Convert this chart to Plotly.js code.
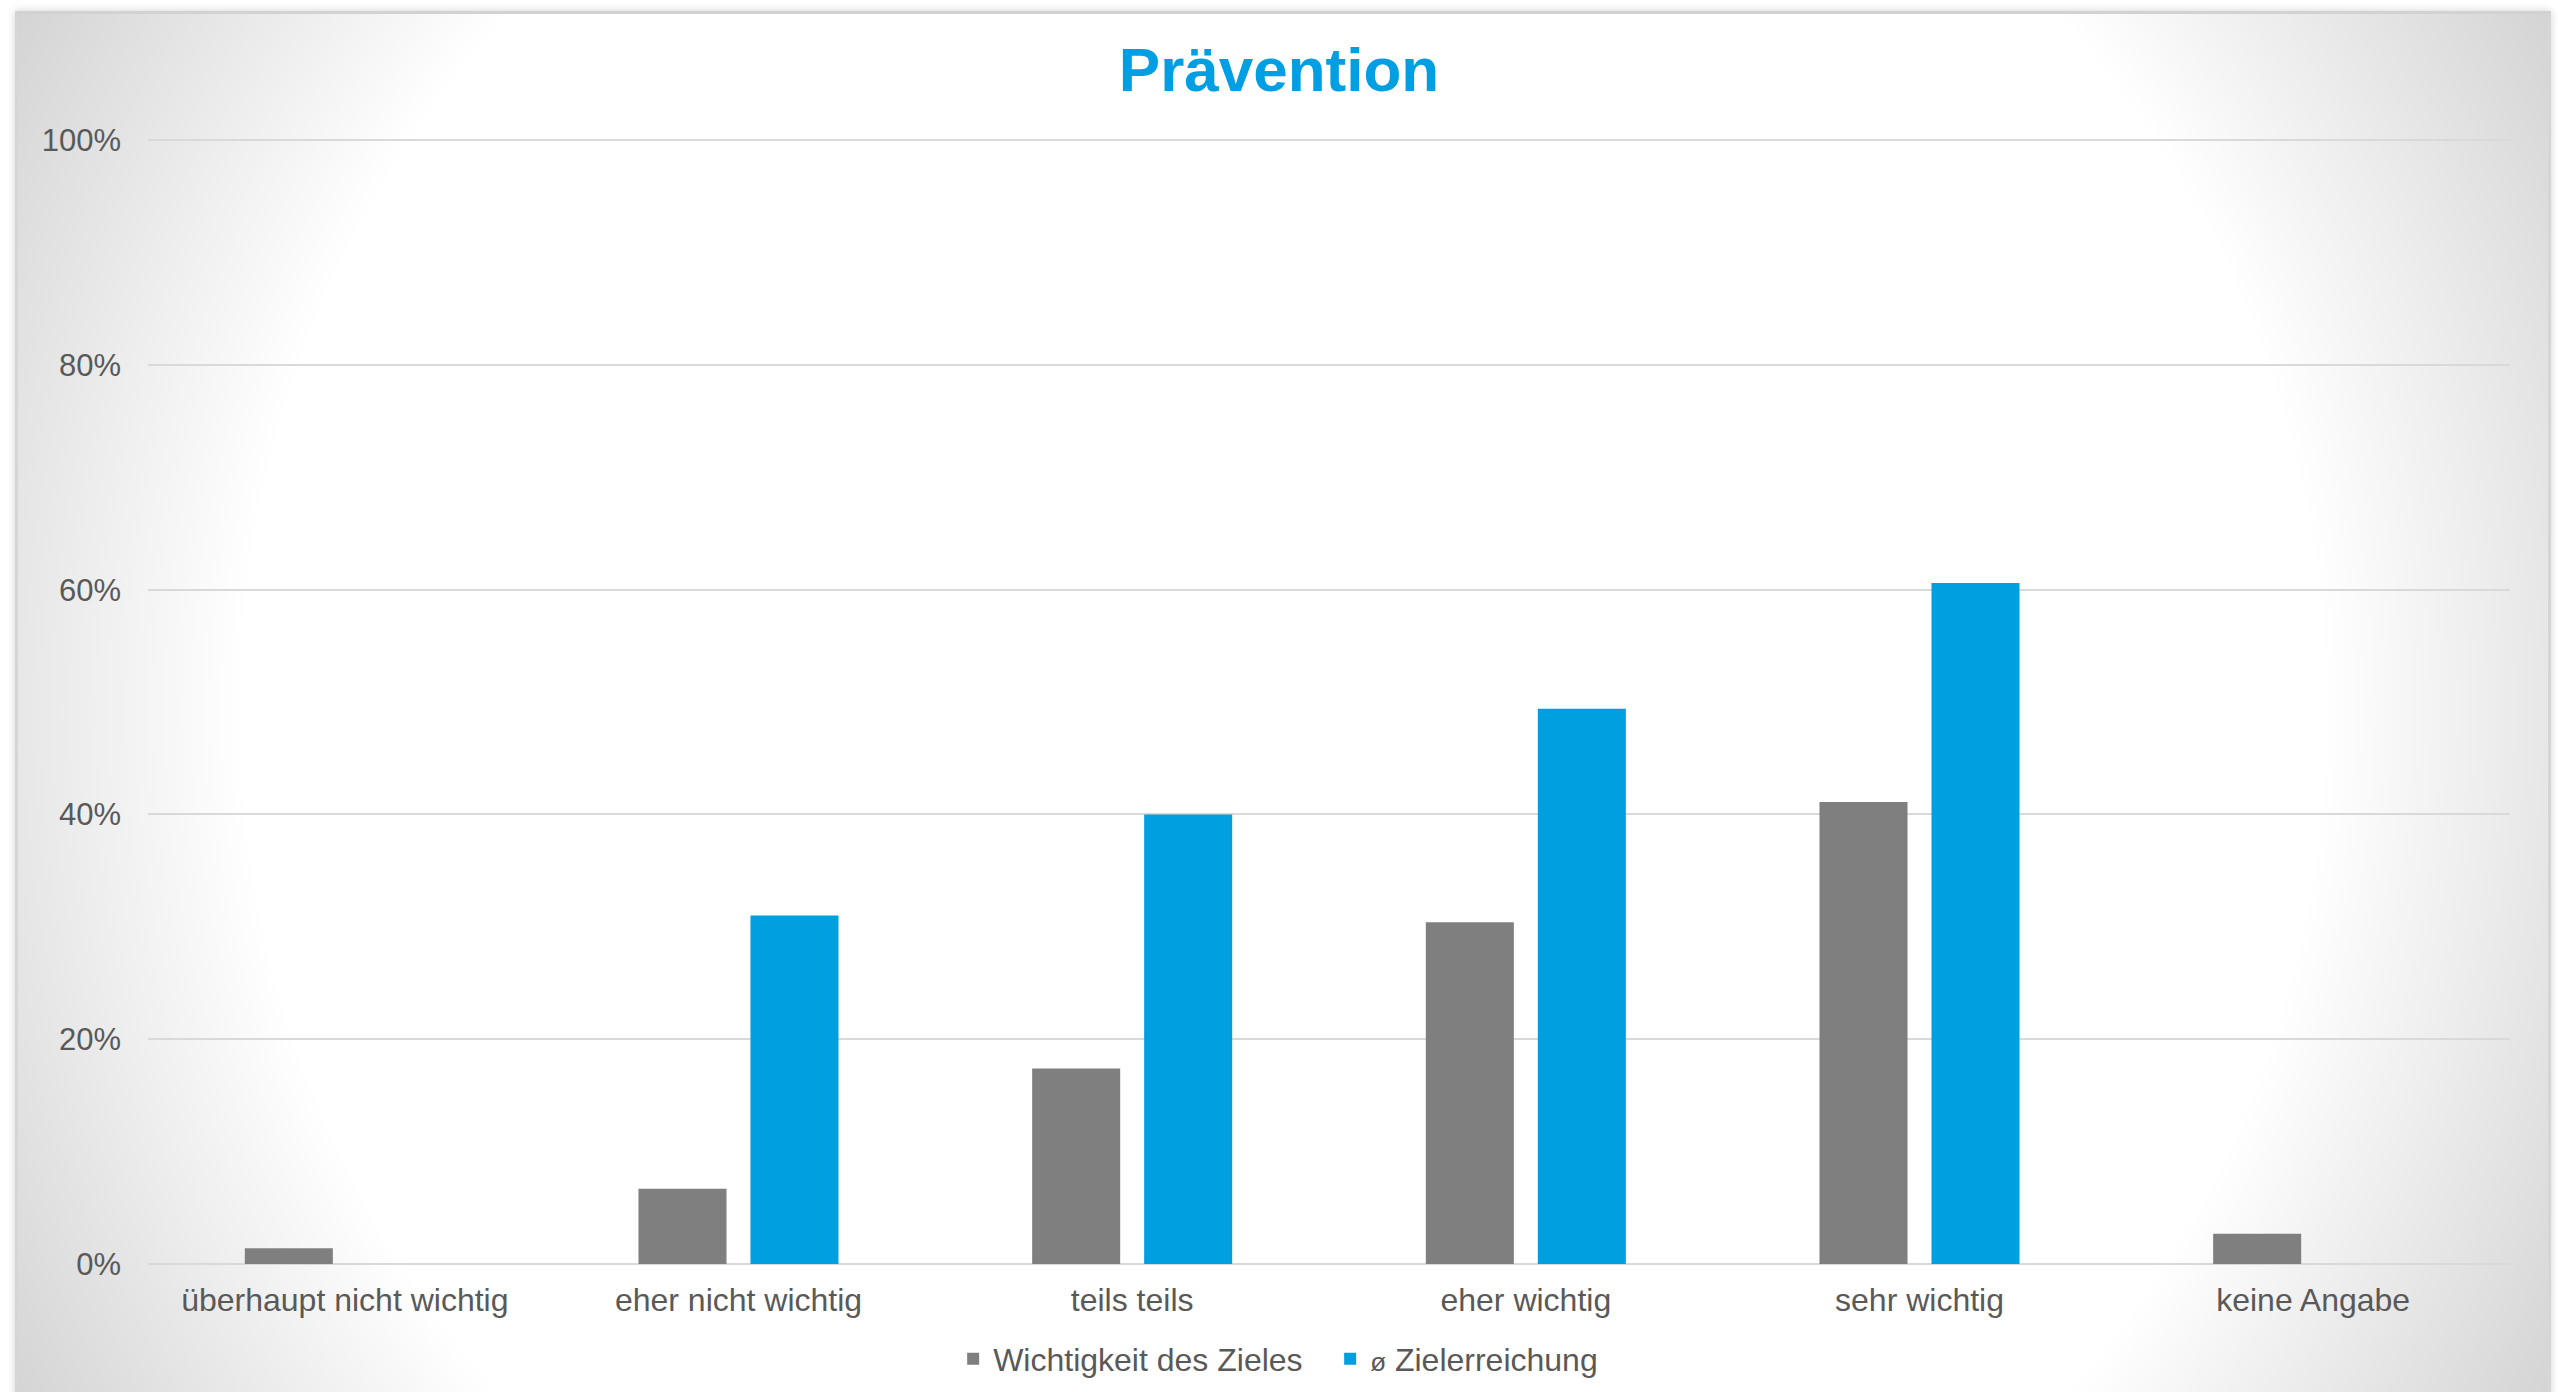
<!DOCTYPE html>
<html>
<head>
<meta charset="utf-8">
<script src="https://cdn.plot.ly/plotly-3.0.1.min.js"></script>
<style>
  html, body { margin:0; padding:0; background:#ffffff; width:2558px; height:1392px; overflow:hidden; }
  #frame {
    position:absolute; left:15px; top:11px; width:2530px; height:1390px;
    background: radial-gradient(circle farthest-corner at 50% 50%, #ffffff 0%, #ffffff 72%, #d4d4d4 100%);
    border-top:3px solid #d2d2d2; border-left:3px solid #d6d6d6; border-right:3px solid #d6d6d6;
    box-shadow: 0 0 8px rgba(0,0,0,0.18);
  }
  #chart { position:absolute; left:0; top:0; width:2558px; height:1392px; }
</style>
</head>
<body>
<div id="frame"></div>
<div id="chart"></div>
<script>
// ---- data ----
const chartTitle = "Prävention";
const categories = ["überhaupt nicht wichtig", "eher nicht wichtig", "teils teils", "eher wichtig", "sehr wichtig", "keine Angabe"];
const seriesNames = ["Wichtigkeit des Zieles", "<span style=\"font-size:26px\">ø</span> Zielerreichung"];
const wichtigkeit = [1.4, 6.7, 17.4, 30.4, 41.1, 2.7];
const zielerreichung = [null, 31.0, 40.0, 49.4, 60.6, null];
const yTickVals = [0, 20, 40, 60, 80, 100];
const yTickText = ["0%", "20%", "40%", "60%", "80%", "100%"];

const grey = "#7f7f7f";
const blue = "#009fdf";
const textCol = "#595959";
const font = "Liberation Sans, Arial, sans-serif";

const traces = [
  { type: "bar", name: seriesNames[0], x: categories, y: wichtigkeit,
    marker: { color: grey }, hoverinfo: "skip" },
  { type: "bar", name: seriesNames[1], x: categories, y: zielerreichung,
    marker: { color: blue }, hoverinfo: "skip" }
];

const layout = {
  width: 2558, height: 1392,
  paper_bgcolor: "rgba(0,0,0,0)", plot_bgcolor: "rgba(0,0,0,0)",
  margin: { l: 148, r: 48, t: 139, b: 128 },
  font: { family: font, color: textCol, size: 32 },
  title: { text: "<b>" + chartTitle + "</b>", font: { family: font, size: 62, color: "#009fe3" },
           x: 0.5, xref: "container", xanchor: "center", y: 0.950, yref: "container", yanchor: "middle" },
  barmode: "group", bargap: 0.431, bargroupgap: 0.214,
  xaxis: { type: "category", showgrid: false, zeroline: false, showline: false, ticks: "",
           tickfont: { family: font, size: 32, color: textCol }, ticklabelstandoff: 14 },
  yaxis: { range: [0, 100.1], tickvals: yTickVals, ticktext: yTickText, showgrid: true,
           gridcolor: "#d9d9d9", gridwidth: 2, zeroline: true, zerolinecolor: "#d9d9d9", zerolinewidth: 2,
           showline: false, ticks: "", tickfont: { family: font, size: 31, color: textCol }, ticklabelstandoff: 26 },
  showlegend: true,
  legend: { orientation: "h", x: 0.520, xref: "container", xanchor: "center", y: 0.0237, yref: "container", yanchor: "middle",
            font: { family: font, size: 32, color: textCol }, bgcolor: "rgba(0,0,0,0)", itemwidth: 30,
            entrywidth: 332, entrywidthmode: "pixels" }
};

Plotly.newPlot("chart", traces, layout, { staticPlot: true, displayModeBar: false });
</script>
</body>
</html>
